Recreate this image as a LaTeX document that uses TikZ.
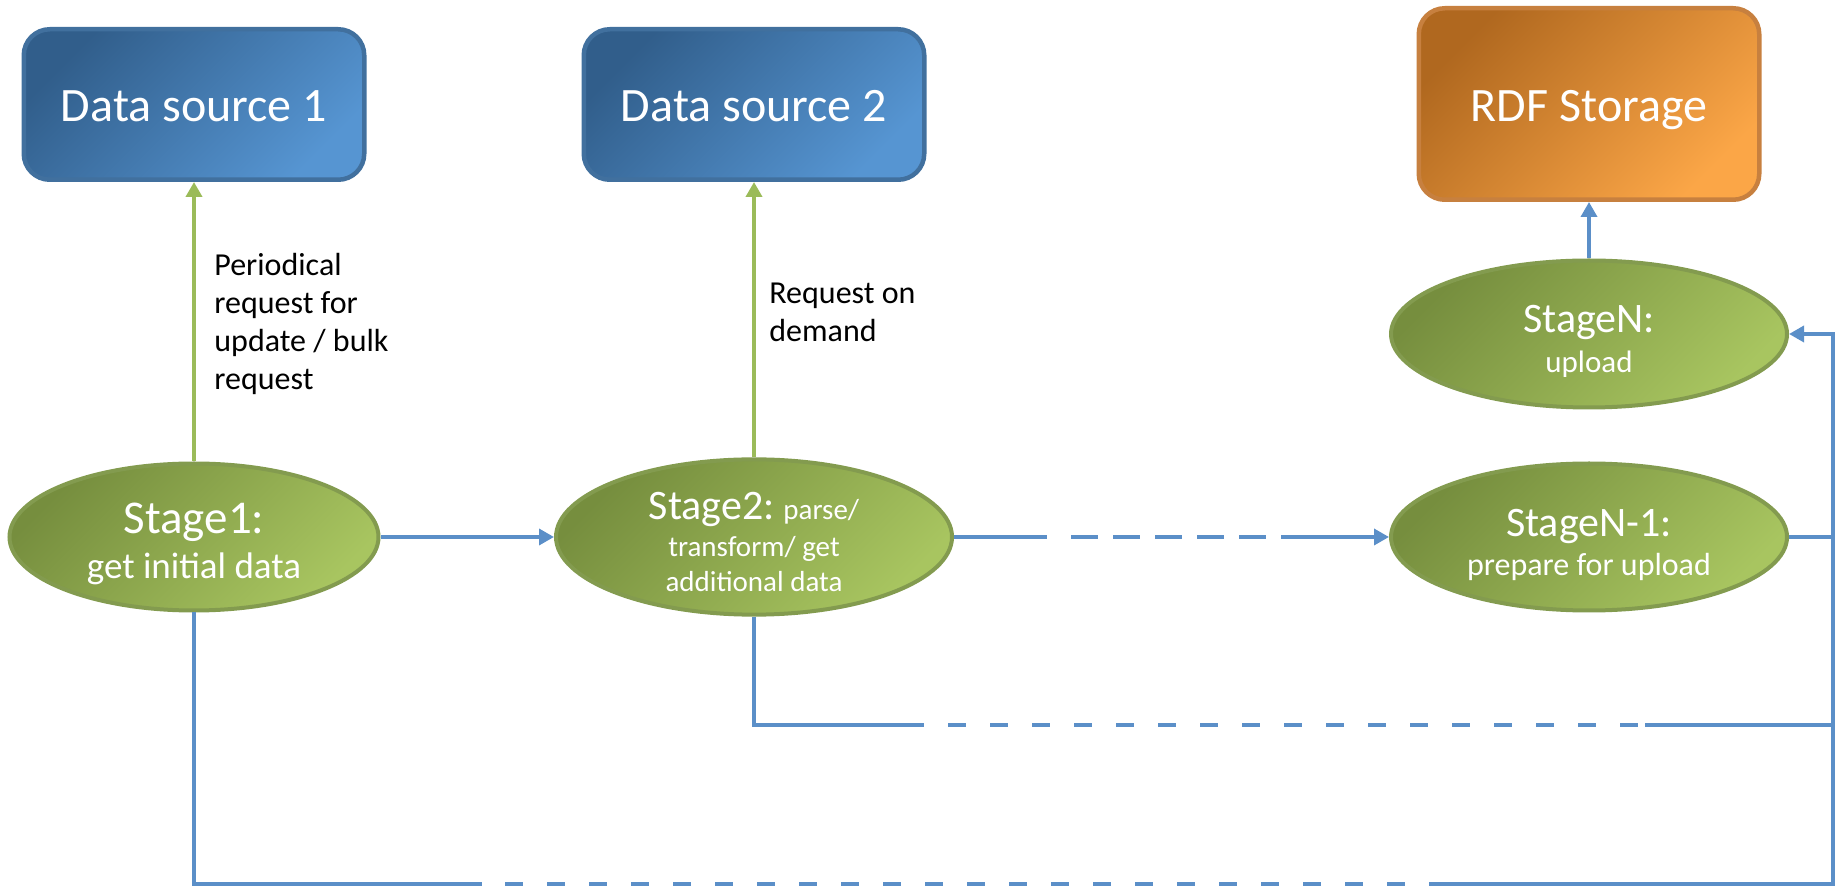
\documentclass[tikz,border=0pt]{standalone}
\usepackage{fontspec}
\setmainfont{Carlito}
\usetikzlibrary{arrows.meta,shapes.geometric}
\definecolor{dsdark}{HTML}{315E8B}
\definecolor{dslight}{HTML}{5695D2}
\definecolor{dsline}{HTML}{41709E}
\definecolor{rdfdark}{HTML}{B0681F}
\definecolor{rdflight}{HTML}{FBA647}
\definecolor{rdfline}{HTML}{C7803F}
\definecolor{stdark}{HTML}{768E3E}
\definecolor{stlight}{HTML}{A8C560}
\definecolor{stline}{HTML}{839B4F}
\definecolor{flowblue}{HTML}{5B8FC8}
\definecolor{reqgreen}{HTML}{9BBB59}

\begin{document}
\begin{tikzpicture}[x=0.5pt,y=-0.5pt,
    box/.style={draw,rounded corners=13pt,line width=2.25pt,minimum width=170.25pt,minimum height=75.25pt,
      inner sep=0pt,text height=18pt,text depth=0.5pt,text=white,font=\fontsize{24}{28}\selectfont},
    blue box/.style={box,draw=dsline,top color=dsdark,bottom color=dslight,shading angle=45},
    orange box/.style={box,draw=rdfline,top color=rdfdark,bottom color=rdflight,shading angle=45},
    stage/.style={ellipse,draw=stline,line width=2pt,top color=stdark,bottom color=stlight,shading angle=45,
      minimum width=198pt,minimum height=73.5pt,inner sep=0pt,text=white,align=center},
    lbl/.style={inner sep=0pt,align=left,anchor=north west,font=\fontsize{16}{19}\selectfont},
    flow/.style={draw=flowblue,line width=1.75pt},
    req/.style={draw=reqgreen,line width=2pt},
    tip/.style={-{Triangle[length=7.5pt,width=8pt]}}]
  \useasboundingbox (0,0) rectangle (1841,886);

  \node[blue box] (DS1) at (194,104.5) {Data source 1};
  \node[blue box] (DS2) at (754,104.5) {Data source 2};
  \node[orange box,minimum height=95.75pt] (RDF) at (1589,104) {RDF Storage};

  \node[stage,minimum width=184.5pt,font=\fontsize{18.5}{22.5}\selectfont] (S1) at (194,537)
    {{\fontsize{23.5}{24}\selectfont\rule{0pt}{22pt}Stage1:}\\get initial data};
  \node[stage,font=\fontsize{14.5}{17.5}\selectfont] (S2) at (754,537)
    {{\fontsize{21}{21}\selectfont\rule{0pt}{18.8pt}Stage2:} parse/\\[1pt]transform/ get\\additional data};
  \node[stage,font=\fontsize{16}{19.5}\selectfont] (SNm) at (1589,537)
    {{\fontsize{21}{21}\selectfont\rule{0pt}{21.8pt}StageN-1:}\\prepare for upload};
  \node[stage,font=\fontsize{15.5}{20}\selectfont] (SN) at (1589,334)
    {{\fontsize{21}{21}\selectfont\rule{0pt}{20.8pt}StageN:}\\upload};

  \node[lbl] (L1) at (214,253) {Periodical\\request for\\update / bulk\\request};
  \node[lbl] (L2) at (769,283) {Request on\\demand};

  \coordinate (A1) at (1047,537);
  \coordinate (A2) at (1071,537);
  \coordinate (A3) at (1266,537);
  \coordinate (A4) at (1281,537);
  \coordinate (M1) at (924,725);
  \coordinate (M2) at (948,725);
  \coordinate (M3) at (1638,725);
  \coordinate (M4) at (1645,725);
  \coordinate (M5) at (1833,725);
  \coordinate (B1) at (482,884);
  \coordinate (B2) at (505,884);
  \coordinate (B3) at (1405,884);
  \coordinate (B4) at (1429,884);
  \coordinate (E1) at (1833,537);

  \draw[req,tip] (S1.north) -- (DS1.south);
  \draw[req,tip] (S2.north) -- (DS2.south);
  \draw[flow,tip] (SN.north) -- (RDF.south);
  \draw[flow,tip] (S1.east) -- (S2.west);
  \draw[flow] (S2.east) -- (A1);
  \draw[flow,dash pattern=on 13.5pt off 7.5pt] (A2) -- (A3);
  \draw[flow,tip] (A4) -- (SNm.west);
  \draw[flow] (S2.south) |- (M1);
  \draw[flow,dash pattern=on 9pt off 12pt] (M2) -- (M3);
  \draw[flow] (M4) -- (M5);
  \draw[flow] (S1.south) |- (B1);
  \draw[flow,dash pattern=on 9pt off 12pt] (B2) -- (B3);
  \draw[flow,tip] (B4) -| (E1) |- (SN.east);
  \draw[flow] (SNm.east) -- (E1);
\end{tikzpicture}
\end{document}
